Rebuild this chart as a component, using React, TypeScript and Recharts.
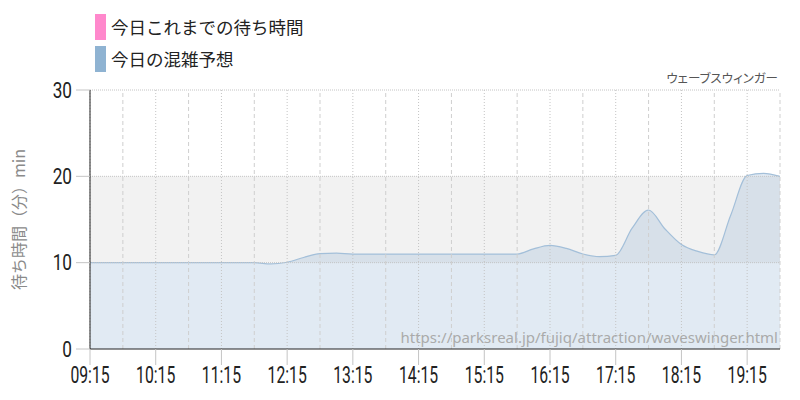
import React from 'react';
import { ComposedChart, Area, XAxis, YAxis, ReferenceArea, ReferenceLine } from 'recharts';

const times = [
  '09:15', '09:30', '09:45', '10:00', '10:15', '10:30', '10:45', '11:00', '11:15', '11:30', '11:45',
  '12:00', '12:15', '12:30', '12:45', '13:00', '13:15', '13:30', '13:45', '14:00', '14:15', '14:30',
  '14:45', '15:00', '15:15', '15:30', '15:45', '16:00', '16:15', '16:30', '16:45', '17:00', '17:15',
  '17:30', '17:45', '18:00', '18:15', '18:30', '18:45', '19:00', '19:15', '19:30', '19:45',
];
const forecast = [
  10, 10, 10, 10, 10, 10, 10, 10, 10, 10, 10,
  9.85, 10.05, 10.6, 11.05, 11.1, 11, 11, 11, 11, 11, 11,
  11, 11, 11, 11, 11, 11.6, 12, 11.65, 11, 10.7, 10.85,
  14, 16.1, 13.9, 12.1, 11.3, 10.9, 15.5, 20.1, 20.35, 20,
];
const xTickLabels = ['09:15', '10:15', '11:15', '12:15', '13:15', '14:15', '15:15', '16:15', '17:15', '18:15', '19:15'];
const halfHourGrid = ['09:45', '10:45', '11:45', '12:45', '13:45', '14:45', '15:45', '16:45', '17:45', '18:45', '19:45'];
const yTicks = [0, 10, 20, 30];
const yGrid = [10, 20, 30];
const legendItems = [
  { label: '今日これまでの待ち時間', color: '#ff88cc' },
  { label: '今日の混雑予想', color: '#8fb3d2' },
];
const attractionName = 'ウェーブスウィンガー';
const sourceUrl = 'https://parksreal.jp/fujiq/attraction/waveswinger.html';
const yAxisTitle = '待ち時間（分）min';

const toMin = (s: string) => {
  const [h, m] = s.split(':').map(Number);
  return h * 60 + m;
};
const fmt = (v: number) => {
  const h = Math.floor(v / 60);
  const m = v % 60;
  return `${String(h).padStart(2, '0')}:${String(m).padStart(2, '0')}`;
};

const data = times.map((t, i) => ({ t: toMin(t), forecast: forecast[i] }));
const xDomain = [toMin(times[0]), toMin(times[times.length - 1])];

const numFont = 'Roboto, "Liberation Sans", sans-serif';
const jpFont = '"Noto Sans CJK JP", "Noto Sans", sans-serif';

const XTick = (props: any) => {
  const { x, y, payload } = props;
  return (
    <text transform={`translate(${x},${y + 16}) scale(0.67,1)`} textAnchor="middle" fontSize={23.5} fontFamily={numFont} fill="#222">
      {fmt(payload.value)}
    </text>
  );
};
const YTick = (props: any) => {
  const { x, y, payload } = props;
  return (
    <text transform={`translate(${x - 2},${y + 7.5}) scale(0.8,1)`} textAnchor="end" fontSize={21.5} fontFamily={numFont} fill="#222">
      {payload.value}
    </text>
  );
};
const YLabel = (props: any) => {
  const vb = props.viewBox;
  const cx = vb.x + 18;
  const cy = vb.y + vb.height / 2;
  return (
    <text x={cx} y={cy} transform={`rotate(-90, ${cx}, ${cy})`} textAnchor="middle" dominantBaseline="central" fontSize={16} fontFamily={jpFont} fill="#8a8a8a">
      {yAxisTitle}
    </text>
  );
};

export default function App() {
  return (
    <div style={{ position: 'relative', width: 800, height: 400, background: '#fff' }}>
      <style>{`body{margin:0}`}</style>
      <ComposedChart width={800} height={400} data={data} margin={{ top: 90, right: 20, left: 0, bottom: 0 }}>
        <ReferenceArea y1={10} y2={20} fill="#f2f2f2" fillOpacity={1} stroke="none" ifOverflow="hidden" />
        <Area
          type="monotone"
          dataKey="forecast"
          fill="#8fb3d2"
          fillOpacity={0.27}
          stroke="#a3bfd9"
          strokeWidth={1.2}
          isAnimationActive={false}
          dot={false}
          activeDot={false}
        />
        {yGrid.map((v) => (
          <ReferenceLine key={`y${v}`} y={v} stroke="#c4c4c4" strokeDasharray="1 1" />
        ))}
        {xTickLabels.map((t) => (
          <ReferenceLine key={`h${t}`} x={toMin(t)} stroke="#c4c4c4" strokeDasharray="1 2" />
        ))}
        {halfHourGrid.map((t) => (
          <ReferenceLine key={`m${t}`} x={toMin(t)} stroke="#cfcfcf" strokeDasharray="4 3" />
        ))}
        <XAxis
          type="number"
          dataKey="t"
          domain={xDomain}
          ticks={xTickLabels.map(toMin)}
          tick={<XTick />}
          tickSize={16}
          tickLine={{ stroke: '#c4c4c4' }}
          axisLine={{ stroke: '#222' }}
          height={51}
          allowDataOverflow
          interval={0}
        />
        <YAxis
          type="number"
          domain={[0, 30]}
          ticks={yTicks}
          tick={<YTick />}
          tickSize={14}
          tickLine={{ stroke: '#c4c4c4' }}
          axisLine={{ stroke: '#222' }}
          width={90}
          interval={0}
          label={<YLabel />}
        />
      </ComposedChart>
      <div style={{ position: 'absolute', left: 95, top: 14, fontFamily: jpFont, fontSize: 17.5, color: '#222' }}>
        {legendItems.map((it) => (
          <div key={it.label} style={{ display: 'flex', alignItems: 'center', height: 26, marginBottom: 6 }}>
            <span style={{ display: 'inline-block', width: 11, height: 26, background: it.color, marginRight: 5 }} />
            <span style={{ lineHeight: '26px' }}>{it.label}</span>
          </div>
        ))}
      </div>
      <div style={{ position: 'absolute', right: 22, top: 68, fontFamily: jpFont, fontSize: 12.5, color: '#555', fontFeatureSettings: '"palt"' }}>
        {attractionName}
      </div>
      <div style={{ position: 'absolute', right: 22, top: 327, fontFamily: '"Noto Sans", sans-serif', fontSize: 15, color: '#aaa' }}>
        {sourceUrl}
      </div>
    </div>
  );
}
